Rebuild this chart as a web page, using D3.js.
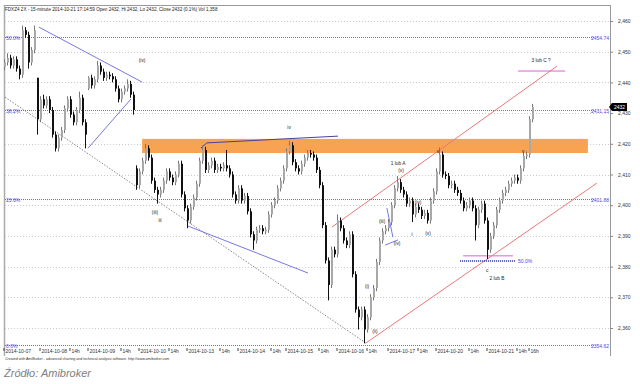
<!DOCTYPE html>
<html>
<head>
<meta charset="utf-8">
<script src="https://cdn.jsdelivr.net/npm/d3@7"></script>
<style>
  body { margin: 0; background: #fff; }
  text { font-family: "Liberation Sans", Arial, sans-serif; }
</style>
</head>
<body>
<svg width="640" height="384"></svg>
<script>
// 15-minute closes, one bar per slot
var closes = [
  2446.5, 2448, 2445.5, 2447.5, 2444.5, 2442.5, 2457, 2455.5, 2446.5, 2450.5,
  2457, 2428, 2434.5, 2432.5, 2434.5, 2431, 2423, 2418.5, 2422, 2424.5,
  2431.5, 2434.5, 2429.5, 2427, 2431, 2435, 2427, 2423, 2441.5, 2439,
  2441, 2445.5, 2443.5, 2441.5, 2442.5, 2442, 2441, 2438, 2434.5, 2437,
  2438, 2439.5, 2436, 2431, 2406.5, 2411, 2414.5, 2418.5, 2415.5, 2408,
  2405, 2403.5, 2405, 2408, 2411, 2409, 2407.5, 2410, 2413.5, 2403.5,
  2399, 2395, 2399.5, 2402.5, 2407, 2414.5, 2418, 2411.5, 2413, 2414.5,
  2411.5, 2412.5, 2412, 2413, 2412, 2410, 2403.5, 2401.5, 2405.5, 2401.5,
  2403, 2398, 2390.5, 2388.5, 2392, 2392.5, 2391.5, 2392, 2397, 2400,
  2401.5, 2405.5, 2408, 2412, 2417.5, 2419.5, 2414, 2412, 2411, 2413.5,
  2415.5, 2417, 2416.5, 2415.5, 2411.5, 2406.5, 2393.5, 2382, 2374, 2385.5,
  2384, 2395, 2392.5, 2388.5, 2387, 2390.5, 2377.5, 2366, 2363.5, 2366,
  2359.5, 2363.5, 2370, 2373, 2381.5, 2388.5, 2391.5, 2392.5, 2394.5, 2400,
  2405.5, 2407.5, 2405, 2403.5, 2400.5, 2401.5, 2397, 2399.5, 2398.5, 2396.5,
  2397.5, 2395, 2401.5, 2404.5, 2411, 2416.5, 2410, 2409.5, 2406.5, 2407,
  2405, 2404, 2401.5, 2399, 2400, 2401.5, 2399, 2393.5, 2398.5, 2400.5,
  2395, 2385.5, 2390, 2393.5, 2398.5, 2401.5, 2404, 2405, 2407, 2408,
  2409, 2408, 2412, 2416, 2416.5, 2428, 2432
];
// opens that do not follow the previous close (session gaps)
var gapOpens = {0: 2445, 11: 2441.5, 28: 2438, 44: 2412};
var wickUp = [
  1,1.5,1,1,1,1,1.5,1,1,1,  1.5,0,1,1.5,1,1,1,1,1,1,  1,1,1,1,1,2,1,1,0.5,1,
  1,1.5,1,1,1,1,1,1,1,1,    1,1.5,1,1,1,1,1,1.5,1,1,  1,1,1,1,1,1,1,1,1,1,
  1,1,1,1,1,1,1.5,1,1,1,    1,1,1,1,5,1,1,1,1,1,      1,1,1,1,1,1,1,1,1,1,
  1,1,1,1,1,1.5,1,1,1,1,    1,1,1,1,1,1,1,1,1,1,      1,2,1,1,1,1,1,1,1,1,
  1,1,1,1,1,1,1,1,1,1,      1,2,1,1,1,1,1,1,1,1,      1,1,1,1,1,2.3,1,1,1,1,
  1,1,1,1,1,1,1,1,1,1,      1,1,1,1,1,1,1,1,1,1,      1,1,1,1,1,1,1
];
var wickDn = [
  1,1,1,1,1,1.5,1,1,2,1,    1,5,1,1,1,1,1,1,1,1,      1,1,1,1,1,1,1,4.5,0.5,1,
  1,1,1,1,1,1,1,1,1,1,      1,1,1,1.5,1.5,1,1,1,1,1,  1,3,1,1,1,1,1,1,1,1,
  1,2.5,1,1,1,1,1,1,1,1,    1,1,1,1,1,1,1,1,1,1,      1,1,1,3,1,1,1,1,1,1,
  1,1,1,1,1,1,1,1,1,1,      1,1,1,1,1,1,1,1,5,1,      1,1,1,1,1,1,1,1,4,1,
  4.5,1,1,1,1,1,1,1,1,1,    1,1,1,1,1,1,2.5,1,1,1,    1,1,1,1,1,1,1,1,1,1,
  1,1,1,1,1,1,1,5,1,1,      1,3,1,1,1,1,1,1,1,1,      1,1,1,1,1,1,1
];

var priceTicks = [2460, 2450, 2440, 2430, 2420, 2410, 2400, 2390, 2380, 2370, 2360];
var timeTickIdx = [0, 12, 22, 28, 39, 45, 55, 61, 72, 78, 89, 94, 105, 111, 121, 128, 138, 144, 155, 161, 171, 175];
var timeTickLabels = ["2014-10-07", "2014-10-08", "14h", "2014-10-09", "14h", "2014-10-10", "14h",
  "2014-10-13", "14h", "2014-10-14", "14h", "2014-10-15", "14h", "2014-10-16", "14h",
  "2014-10-17", "14h", "2014-10-20", "14h", "2014-10-21", "14h", "16h"];

var fibPct = ["50.0%", "38.2%", "23.6%", "0.0%"];
var fibPrice = [2454.74, 2431.15, 2401.88, 2354.62];

// drawn trend lines: [bar, price] points
var blueLines = [
  [[11.3, 2458], [45.7, 2440.1]],
  [[27.7, 2418.6], [42, 2434.6]],
  [[61, 2393.2], [101, 2377.9]],
  [[127.3, 2399.1], [129.3, 2389.6]],
  [[126.7, 2387], [131, 2388.7]]
];
var navyLine = [[65.3, 2418.6], [67.3, 2420.3], [111, 2422.5]];
var greyDotLine = [[0, 2435.2], [120.3, 2355.1]];
var redLines = [
  [[109, 2392.9], [184, 2445.3]],
  [[120.3, 2355.1], [197.3, 2407.2]]
];
var pinkLines = [
  [[171, 2443.7], [186.7, 2443.7]],
  [[152.7, 2383.5], [169.3, 2383.5]]
];
var localFib = [[151.7, 2381.8], [170, 2381.8]];
var zone = {i0: 45.7, i1: 194.3, lo: 2417, hi: 2421.6};

var waveLabels = [
  ["(iv)", 45.7, 2447.3], ["iv", 94.7, 2425.5], ["(iii)", 50, 2397.8], ["iii", 51.7, 2395.2],
  ["1 lub A", 131, 2413.9], ["(v)", 132, 2411.5], ["(iii)", 125.7, 2394.9], ["(iv)", 130.7, 2387.7],
  ["(iv)", 137.7, 2401], ["i", 135.7, 2390.6], ["(v)", 141, 2391], ["(i)", 120.7, 2373.7],
  ["(ii)", 123.3, 2359], ["3 lub C ?", 178.7, 2447.3], ["c", 160.7, 2378.9], ["2 lub B", 164, 2376.3],
  ["v", 144.3, 2417.6], ["v", 172.7, 2417.6]
];

var svg = d3.select("svg");
var x = d3.scaleLinear().domain([0, 176]).range([5, 533]);
var y = d3.scaleLinear().domain([2360, 2460]).range([328, 21]);

var bars = closes.map(function(c, i) {
  var o = gapOpens[i] !== undefined ? gapOpens[i] : closes[i - 1];
  return {i: i, o: o, c: c,
          h: Math.max(o, c) + wickUp[i],
          l: Math.min(o, c) - wickDn[i]};
});

var line = d3.line().x(function(d) { return x(d[0]); }).y(function(d) { return y(d[1]); });

// frame
svg.append("line").attr("x1", 4).attr("x2", 610).attr("y1", 5.5).attr("y2", 5.5).attr("stroke", "#999");
svg.append("line").attr("x1", 4.5).attr("x2", 4.5).attr("y1", 5).attr("y2", 356).attr("stroke", "#aaa").attr("stroke-width", 1.5);
svg.append("line").attr("x1", 610.5).attr("x2", 610.5).attr("y1", 5).attr("y2", 356).attr("stroke", "#999");

// title
svg.append("text").attr("x", 5).attr("y", 10.5).attr("font-size", "4.6px").attr("fill", "#222")
  .text("FDXZ4 2X - 15-minute 2014-10-21 17:14:59 Open 2432, Hi 2432, Lo 2432, Close 2432 (0.1%) Vol 1,358");

// grid
svg.append("g").selectAll("line").data(priceTicks).enter().append("line")
  .attr("x1", 5).attr("x2", 609)
  .attr("y1", function(d) { return Math.round(y(d)) + 0.5; })
  .attr("y2", function(d) { return Math.round(y(d)) + 0.5; })
  .attr("stroke", "#cbcbcb").attr("stroke-dasharray", "1,2");

// resistance zone
svg.append("rect")
  .attr("x", x(zone.i0)).attr("width", x(zone.i1) - x(zone.i0))
  .attr("y", y(zone.hi)).attr("height", y(zone.lo) - y(zone.hi))
  .attr("fill", "#f8a352");

// fibonacci levels
var fib = svg.append("g");
fibPrice.forEach(function(p, k) {
  var yy = Math.round(y(p)) + 0.5;
  fib.append("line").attr("x1", 5).attr("x2", 594).attr("y1", yy).attr("y2", yy)
    .attr("stroke", "#6a6aee").attr("stroke-dasharray", "1,1");
  fib.append("text").attr("x", 6).attr("y", yy + 2).attr("font-size", "5px").attr("fill", "#4a4ae0").text(fibPct[k]);
  fib.append("text").attr("x", 609).attr("y", yy + 2).attr("text-anchor", "end")
    .attr("font-size", "5px").attr("fill", "#4a4ae0").text(p.toFixed(2));
});

// trend lines
svg.append("path").attr("d", line(greyDotLine)).attr("fill", "none")
  .attr("stroke", "#888").attr("stroke-dasharray", "1.5,1.5");
blueLines.forEach(function(l) {
  svg.append("path").attr("d", line(l)).attr("fill", "none").attr("stroke", "#7777e6");
});
svg.append("path").attr("d", line(navyLine)).attr("fill", "none").attr("stroke", "#4b3f9a");
redLines.forEach(function(l) {
  svg.append("path").attr("d", line(l)).attr("fill", "none").attr("stroke", "#ee7777");
});
pinkLines.forEach(function(l) {
  svg.append("path").attr("d", line(l)).attr("fill", "none").attr("stroke", "#e060d0");
});
svg.append("path").attr("d", line(localFib)).attr("fill", "none")
  .attr("stroke", "#2020b0").attr("stroke-width", 1.5).attr("stroke-dasharray", "1,1");
svg.append("text").attr("x", x(localFib[1][0]) + 3).attr("y", y(localFib[1][1]) + 2)
  .attr("font-size", "5px").attr("fill", "#4a4ae0").text("50.0%");

// candles
var cg = svg.append("g");
cg.selectAll(".wick").data(bars).enter().append("line")
  .attr("class", "wick")
  .attr("x1", function(d) { return x(d.i) - 0.5; })
  .attr("x2", function(d) { return x(d.i) - 0.5; })
  .attr("y1", function(d) { return y(d.h); })
  .attr("y2", function(d) { return y(d.l); })
  .attr("stroke", function(d) { return d.c >= d.o ? "#777" : "#111"; });
cg.selectAll(".body").data(bars).enter().append("rect")
  .attr("class", "body")
  .attr("x", function(d) { return x(d.i) - 1; })
  .attr("width", 2)
  .attr("y", function(d) { return y(Math.max(d.o, d.c)); })
  .attr("height", function(d) { return Math.max(1, Math.abs(y(d.o) - y(d.c))); })
  .attr("fill", function(d) { return d.c >= d.o ? "#a8a8a8" : "#111"; });

// wave labels
svg.append("g").selectAll("text").data(waveLabels).enter().append("text")
  .attr("x", function(d) { return x(d[1]); })
  .attr("y", function(d) { return y(d[2]) + 2; })
  .attr("text-anchor", "middle").attr("font-size", "4.8px").attr("fill", "#222")
  .text(function(d) { return d[0]; });

// price axis
var ya = svg.append("g").attr("transform", "translate(610,0)")
  .call(d3.axisRight(y).tickValues(priceTicks).tickFormat(d3.format(",")).tickSize(3).tickPadding(5));
ya.select(".domain").remove();
ya.selectAll("line").attr("stroke", "#888");
ya.selectAll("text").attr("font-size", "5px").attr("fill", "#333").attr("font-family", "Liberation Sans, Arial");

// last price marker
var lastY = Math.round(y(closes[closes.length - 1]));
svg.append("path").attr("d", "M609," + lastY + "L612," + (lastY - 4) + "L627," + (lastY - 4) + "L627," + (lastY + 4) + "L612," + (lastY + 4) + "Z")
  .attr("fill", "#000");
svg.append("text").attr("x", 619.5).attr("y", lastY + 2).attr("text-anchor", "middle")
  .attr("font-size", "5px").attr("fill", "#fff").text("2432");

// time axis
var xa = svg.append("g").attr("transform", "translate(-1.5,348)")
  .call(d3.axisBottom(x).tickValues(timeTickIdx)
    .tickFormat(function(d, k) { return timeTickLabels[k]; }).tickSize(3));
xa.select(".domain").remove();
xa.selectAll("line").attr("stroke", "#444");
xa.selectAll("text").attr("font-size", "5px").attr("fill", "#333").attr("font-family", "Liberation Sans, Arial")
  .attr("text-anchor", "start").attr("x", 1.5).attr("y", 1.5).attr("dy", "0.71em");

// credits
svg.append("text").attr("x", 5).attr("y", 360).attr("font-size", "3.6px").attr("fill", "#333")
  .text("Created with AmiBroker - advanced charting and technical analysis software. http://www.amibroker.com");
svg.append("text").attr("x", 4).attr("y", 377).attr("font-size", "11px").attr("font-style", "italic")
  .attr("fill", "#808080").text("Źródło: Amibroker");
</script>
</body>
</html>
